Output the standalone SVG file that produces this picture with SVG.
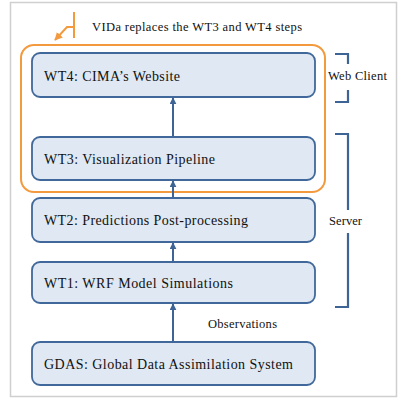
<svg xmlns="http://www.w3.org/2000/svg" width="400" height="400" viewBox="0 0 400 400">
<defs>
<style>
.box{fill:#dfe8f3;stroke:#41689a;stroke-width:1.8}
.conn{stroke:#3d6494;stroke-width:2;fill:none}
.brk{stroke:#3d6494;stroke-width:2.2;fill:none}
.org{stroke:#f39a3e;stroke-width:2;fill:none}
</style>
<marker id="ah" viewBox="0 0 10 10" refX="9" refY="5" markerWidth="3.5" markerHeight="3.5" orient="auto" markerUnits="strokeWidth">
<path d="M0,0 L10,5 L0,10 z" fill="#3d6494"/>
</marker>
<marker id="oh" viewBox="0 0 10 10" refX="9" refY="5" markerWidth="4" markerHeight="4" orient="auto" markerUnits="strokeWidth">
<path d="M0,0 L10,5 L0,10 z" fill="#f39a3e"/>
</marker>
</defs>
<rect x="10.5" y="2.5" width="386" height="394" fill="#fff" stroke="#cfcfcf" stroke-width="1.5"/>
<g font-family="Liberation Serif, Times New Roman, DejaVu Serif, serif" fill="#111">
<g id="callout">
<rect x="21" y="45" width="304" height="147" rx="13" class="org"/>
<path d="M74,12 V38 M74,27 H67 L55,40" class="org" marker-end="url(#oh)"/>
<text x="92" y="31" font-size="12.5" textLength="210" lengthAdjust="spacing">VIDa replaces the WT3 and WT4 steps</text>
</g>
<g id="connectors">
<line x1="173" y1="137" x2="173" y2="98" class="conn" marker-end="url(#ah)"/>
<line x1="173" y1="198" x2="173" y2="181" class="conn" marker-end="url(#ah)"/>
<line x1="173" y1="262" x2="173" y2="243" class="conn" marker-end="url(#ah)"/>
<line x1="173" y1="342" x2="173" y2="304" class="conn" marker-end="url(#ah)"/>
</g>
<g id="wt4"><rect x="32" y="53" width="283" height="44" rx="8" class="box"/><text x="44" y="81" font-size="14" textLength="136" lengthAdjust="spacing">WT4: CIMA’s  Website</text></g>
<g id="wt3"><rect x="32" y="137" width="283" height="43" rx="8" class="box"/><text x="44" y="164" font-size="14" textLength="171" lengthAdjust="spacing">WT3: Visualization Pipeline</text></g>
<g id="wt2"><rect x="32" y="198" width="283" height="44" rx="8" class="box"/><text x="44" y="225" font-size="14" textLength="204" lengthAdjust="spacing">WT2: Predictions Post-processing</text></g>
<g id="wt1"><rect x="32" y="262" width="283" height="41" rx="8" class="box"/><text x="44" y="288" font-size="14" textLength="189" lengthAdjust="spacing">WT1: WRF Model Simulations</text></g>
<g id="gdas"><rect x="32" y="342" width="283" height="43" rx="8" class="box"/><text x="44" y="369" font-size="14" textLength="249" lengthAdjust="spacing">GDAS: Global Data Assimilation  System</text></g>
<g id="webclient">
<path d="M335,54 H348 V64 M348,90 V102 H335" class="brk"/>
<text x="328" y="80" font-size="12.5" textLength="59" lengthAdjust="spacing">Web Client</text>
</g>
<g id="server">
<path d="M335,134 H348 V210 M348,233 V307 H335" class="brk"/>
<text x="329" y="225" font-size="12.5" textLength="33" lengthAdjust="spacing">Server</text>
</g>
<text x="208" y="328" font-size="12.5" textLength="69" lengthAdjust="spacing">Observations</text>
</g>
</svg>
